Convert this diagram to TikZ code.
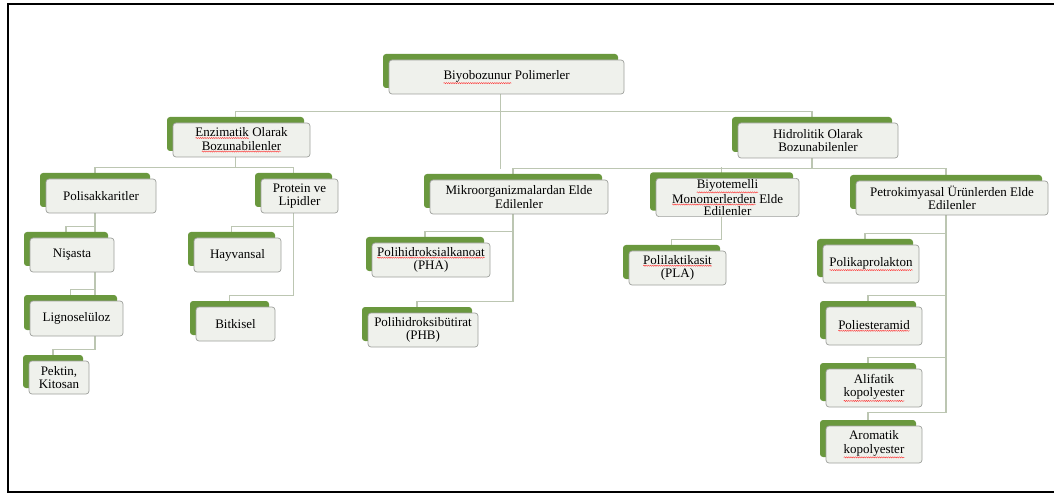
\documentclass[tikz,border=0pt]{standalone}
\usepackage{fontspec}
\setmainfont{Liberation Serif}
\usetikzlibrary{shadows,backgrounds,decorations.pathmorphing}
\definecolor{leafgreen}{RGB}{106,152,62}
\definecolor{boxfill}{RGB}{239,241,236}
\definecolor{boxline}{RGB}{158,160,156}
\definecolor{linkline}{RGB}{188,198,178}
\def\fsize{13}
% red spell-check wave under a word
\newcommand{\sq}[1]{\tikz[baseline=(sqw.base)]{%
  \node[inner sep=0pt, outer sep=0pt, minimum width=0pt, minimum height=0pt,
    draw=none, fill=none] (sqw) {#1};
  \draw[red!80!white, line width=0.4pt, rounded corners=0pt, decorate,
    decoration={snake, amplitude=0.6pt, segment length=2.2pt}]
    ([yshift=-1.2pt]sqw.south west) -- ([yshift=-1.2pt]sqw.south east);}}
% list child hanging from a parent spine
\newcommand{\branch}[2]{\draw[link] ([xshift=-6pt]#2.north) -- ++(0,-11) -| ([xshift=-6pt]#1.south);}

\begin{document}
\begin{tikzpicture}[x=1pt,y=-1pt,
    box/.style={draw=boxline, fill=boxfill, line width=0.7pt, rounded corners=3pt,
      align=center, inner sep=1pt, font=\fontsize{\fsize}{13.5}\selectfont,
      general shadow={fill=leafgreen, shadow xshift=-6pt, shadow yshift=6pt}},
    dims/.style 2 args={minimum width=#1pt, minimum height=#2pt},
    link/.style={draw=linkline, line width=1.1pt}]
  \useasboundingbox (0,0) rectangle (1054,494);
  \draw[line width=1.8pt] (1060,4) -- (8,4) -- (8,492) -- (1060,492);

  % top
  \node[box, dims={235}{34}] (root) at (506.5,77) {\sq{Biyobozunur} Polimerler};
  \node[box, dims={137}{34}] (enz) at (241.5,140) {\sq{Enzimatik} Olarak\\\sq{Bozunabilenler}};
  \node[box, dims={160}{35}] (hid) at (818,140.5) {Hidrolitik Olarak\\Bozunabilenler};

  % second level
  \node[box, dims={110}{34}] (poli) at (101,196) {Polisakkaritler};
  \node[box, dims={77}{34}] (prot) at (299.5,196) {Protein ve\\Lipidler};
  \node[box, dims={178}{34}] (mikro) at (519,197) {Mikroorganizmalardan Elde\\Edilenler};
  \node[box, dims={143}{35}, font=\fontsize{\fsize}{12.3}\selectfont] (biyo) at (727.5,197.5)
    {\sq{Biyotemelli}\\\sq{Monomerlerden} Elde\\Edilenler};
  \node[box, dims={192}{34}] (petro) at (952,198) {Petrokimyasal Ürünlerden Elde\\Edilenler};

  % leaves
  \node[box, dims={84}{34}] (nis) at (72,255) {Nişasta};
  \node[box, dims={93}{35}] (lig) at (76.5,318.5) {Lignoselüloz};
  \node[box, dims={60}{33}] (pek) at (59,377.5) {Pektin,\\Kitosan};
  \node[box, dims={87}{34}] (hay) at (237.5,255) {Hayvansal};
  \node[box, dims={79}{34}] (bit) at (235.5,324) {Bitkisel};
  \node[box, dims={118}{34}] (pha) at (431,260) {\sq{Polihidroksialkanoat}\\(PHA)};
  \node[box, dims={110}{34}] (phb) at (423,330) {Polihidroksibütirat\\(PHB)};
  \node[box, dims={97}{34}] (pla) at (677.5,268) {\sq{Polilaktikasit}\\(PLA)};
  \node[box, dims={96}{38}] (pcl) at (871,264) {\sq{Polikaprolakton}};
  \node[box, dims={96}{38}] (pea) at (874,326) {\sq{Poliesteramid}};
  \node[box, dims={96}{38}] (ali) at (874,388) {Alifatik\\\sq{kopolyester}};
  \node[box, dims={96}{37}] (aro) at (874,444.5) {Aromatik\\\sq{kopolyester}};

  \begin{scope}[on background layer]
    % tree connectors
    \draw[link] ([xshift=-6pt]root.south) -- ++(0,75);
    \draw[link] ([xshift=-6pt]enz.north) -- ++(0,-11) -| ([xshift=-6pt]hid.north);
    \draw[link] ([xshift=-6pt]enz.south) -- ++(0,11);
    \draw[link] ([xshift=-6pt]poli.north) -- ++(0,-11) -| ([xshift=-6pt]prot.north);
    \draw[link] ([xshift=-6pt]hid.south) -- ++(0,11);
    \draw[link] ([xshift=-6pt]mikro.north) -- ++(0,-11) -| ([xshift=-6pt]petro.north);
    \draw[link] ([xshift=-6pt]biyo.north) -- ++(0,-11);

    % list connectors
    \branch{poli}{nis} \branch{poli}{lig} \branch{poli}{pek}
    \branch{prot}{hay} \branch{prot}{bit}
    \branch{mikro}{pha} \branch{mikro}{phb}
    \branch{biyo}{pla}
    \branch{petro}{pcl} \branch{petro}{pea} \branch{petro}{ali}
    \draw[link] ([xshift=-6pt]aro.north) -- ++(0,-13) -| ([xshift=-6pt]petro.south);
  \end{scope}
\end{tikzpicture}
\end{document}
